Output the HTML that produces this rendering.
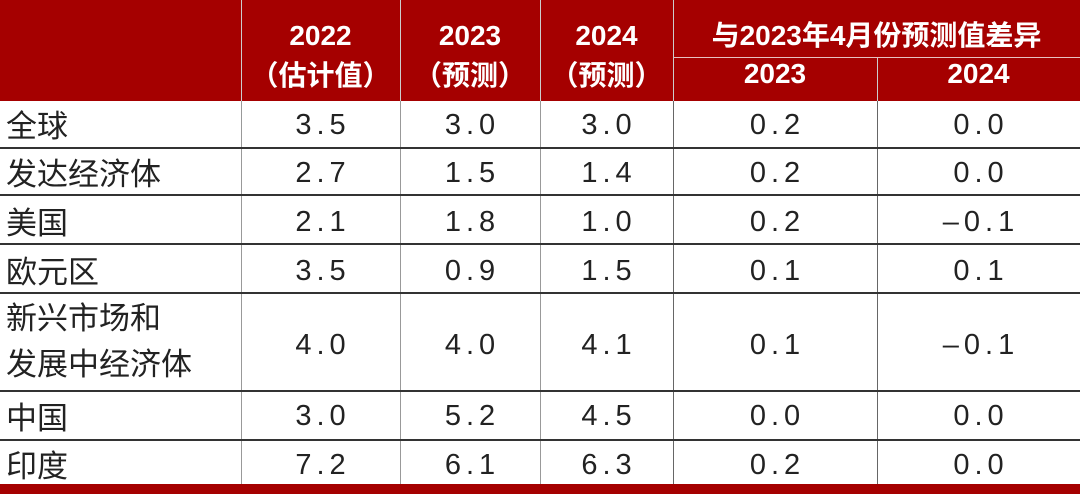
<!DOCTYPE html>
<html><head><meta charset="utf-8"><style>
body{margin:0;width:1080px;height:494px;background:#fff;position:relative;overflow:hidden;font-family:"Liberation Sans","Noto Sans CJK SC",sans-serif;}
.a{position:absolute;}
.hd{position:absolute;left:0;top:0;width:1080px;height:101px;background:#a50000;}
.vl{position:absolute;width:1px;background:#999;}
.hl{position:absolute;left:0;width:1080px;height:2px;background:#333;}
.t{position:absolute;color:#fff;font-weight:bold;font-size:28px;text-align:center;line-height:40px;}
.c{position:absolute;color:#222;font-size:29px;text-align:center;letter-spacing:5px;text-indent:5px;}
.l{position:absolute;left:6px;color:#222;font-size:31px;}
</style></head><body>
<div class="hd"></div>
<div class="vl" style="left:241px;top:0;height:484px;background:#ccc"></div>
<div class="vl" style="left:400px;top:0;height:484px;background:#ccc"></div>
<div class="vl" style="left:540px;top:0;height:484px;background:#ccc"></div>
<div class="vl" style="left:673px;top:0;height:484px;background:#ccc"></div>
<div class="vl" style="left:877px;top:58px;height:426px;background:#ccc"></div>
<div class="a" style="left:241px;top:101px;width:1px;height:383px;background:#999"></div>
<div class="a" style="left:400px;top:101px;width:1px;height:383px;background:#999"></div>
<div class="a" style="left:540px;top:101px;width:1px;height:383px;background:#999"></div>
<div class="a" style="left:673px;top:101px;width:1px;height:383px;background:#666"></div>
<div class="a" style="left:877px;top:101px;width:1px;height:383px;background:#666"></div>
<div class="a" style="left:674px;top:57px;width:406px;height:1px;background:#e8c0c0"></div>
<div class="t" style="left:241px;top:16px;width:159px">2022<br>（估计值）</div>
<div class="t" style="left:400px;top:16px;width:140px">2023<br>（预测）</div>
<div class="t" style="left:540px;top:16px;width:133px">2024<br>（预测）</div>
<div class="t" style="left:673px;top:16px;width:407px">与2023年4月份预测值差异</div>
<div class="t" style="left:673px;top:54px;width:204px">2023</div>
<div class="t" style="left:877px;top:54px;width:203px">2024</div>
<div class="hl" style="top:147px"></div>
<div class="hl" style="top:194px"></div>
<div class="hl" style="top:243px"></div>
<div class="hl" style="top:292px"></div>
<div class="hl" style="top:390px"></div>
<div class="hl" style="top:439px"></div>
<div class="a" style="left:0;top:484px;width:1080px;height:10px;background:#a50000"></div>

<div class="l" style="top:101px">全球</div>
<div class="l" style="top:149px">发达经济体</div>
<div class="l" style="top:198px">美国</div>
<div class="l" style="top:247px">欧元区</div>
<div class="l" style="top:296px;line-height:46px">新兴市场和<br>发展中经济体</div>
<div class="l" style="top:393px">中国</div>
<div class="l" style="top:441px">印度</div>

<div style="position:absolute;top:2px;left:0">
<div class="c" style="left:241px;top:107px;width:159px">3.5</div><div class="c" style="left:400px;top:107px;width:140px">3.0</div><div class="c" style="left:540px;top:107px;width:133px">3.0</div><div class="c" style="left:673px;top:107px;width:204px">0.2</div><div class="c" style="left:877px;top:107px;width:203px">0.0</div>
<div class="c" style="left:241px;top:155px;width:159px">2.7</div><div class="c" style="left:400px;top:155px;width:140px">1.5</div><div class="c" style="left:540px;top:155px;width:133px">1.4</div><div class="c" style="left:673px;top:155px;width:204px">0.2</div><div class="c" style="left:877px;top:155px;width:203px">0.0</div>
<div class="c" style="left:241px;top:204px;width:159px">2.1</div><div class="c" style="left:400px;top:204px;width:140px">1.8</div><div class="c" style="left:540px;top:204px;width:133px">1.0</div><div class="c" style="left:673px;top:204px;width:204px">0.2</div><div class="c" style="left:877px;top:204px;width:203px">–0.1</div>
<div class="c" style="left:241px;top:253px;width:159px">3.5</div><div class="c" style="left:400px;top:253px;width:140px">0.9</div><div class="c" style="left:540px;top:253px;width:133px">1.5</div><div class="c" style="left:673px;top:253px;width:204px">0.1</div><div class="c" style="left:877px;top:253px;width:203px">0.1</div>
<div class="c" style="left:241px;top:327px;width:159px">4.0</div><div class="c" style="left:400px;top:327px;width:140px">4.0</div><div class="c" style="left:540px;top:327px;width:133px">4.1</div><div class="c" style="left:673px;top:327px;width:204px">0.1</div><div class="c" style="left:877px;top:327px;width:203px">–0.1</div>
<div class="c" style="left:241px;top:398px;width:159px">3.0</div><div class="c" style="left:400px;top:398px;width:140px">5.2</div><div class="c" style="left:540px;top:398px;width:133px">4.5</div><div class="c" style="left:673px;top:398px;width:204px">0.0</div><div class="c" style="left:877px;top:398px;width:203px">0.0</div>
<div class="c" style="left:241px;top:447px;width:159px">7.2</div><div class="c" style="left:400px;top:447px;width:140px">6.1</div><div class="c" style="left:540px;top:447px;width:133px">6.3</div><div class="c" style="left:673px;top:447px;width:204px">0.2</div><div class="c" style="left:877px;top:447px;width:203px">0.0</div>
</div>
</body></html>
